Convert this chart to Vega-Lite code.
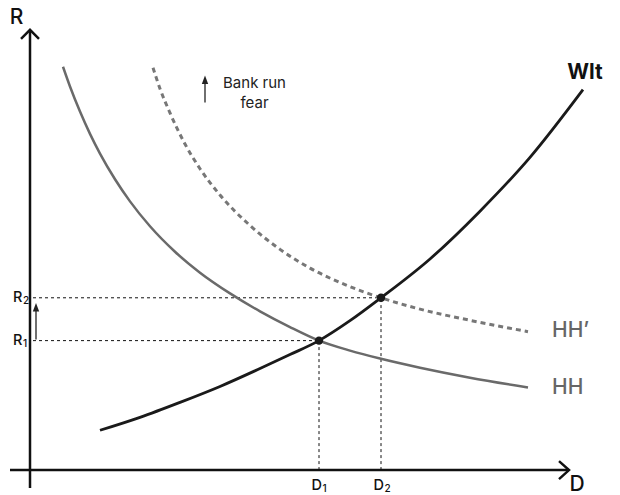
{
  "$schema": "https://vega.github.io/schema/vega-lite/v6.json",
  "width": 620,
  "height": 495,
  "autosize": {"type": "fit", "contains": "padding"},
  "padding": 0,
  "config": {"view": {"stroke": null}, "font": "Inter"},
  "datasets": {
    "axes": [
      {"part": "yaxis", "o": 0, "D": 0, "R": -4.5},
      {"part": "yaxis", "o": 1, "D": 0, "R": 110.5},
      {"part": "yarrow", "o": 0, "D": -1.8, "R": 108.25},
      {"part": "yarrow", "o": 1, "D": 0, "R": 110.5},
      {"part": "yarrow", "o": 2, "D": 1.8, "R": 108.25},
      {"part": "xaxis", "o": 0, "D": -4, "R": 0},
      {"part": "xaxis", "o": 1, "D": 107.8, "R": 0},
      {"part": "xarrow", "o": 0, "D": 105.8, "R": 2.25},
      {"part": "xarrow", "o": 1, "D": 107.8, "R": 0},
      {"part": "xarrow", "o": 2, "D": 105.8, "R": -2.25}
    ],
    "guides": [
      {"g": "h1", "o": 0, "D": 0.6, "R": 32.5},
      {"g": "h1", "o": 1, "D": 57.8, "R": 32.5},
      {"g": "h2", "o": 0, "D": 0.6, "R": 43.25},
      {"g": "h2", "o": 1, "D": 70.2, "R": 43.25},
      {"g": "v1", "o": 0, "D": 57.8, "R": 0},
      {"g": "v1", "o": 1, "D": 57.8, "R": 32.5},
      {"g": "v2", "o": 0, "D": 70.2, "R": 0},
      {"g": "v2", "o": 1, "D": 70.2, "R": 43.25}
    ],
    "curves": [
      {"curve": "Wlt", "D": 14.0, "R": 10.0},
      {"curve": "Wlt", "D": 22.0, "R": 13.25},
      {"curve": "Wlt", "D": 30.0, "R": 17.0},
      {"curve": "Wlt", "D": 38.0, "R": 21.0},
      {"curve": "Wlt", "D": 46.0, "R": 25.5},
      {"curve": "Wlt", "D": 52.0, "R": 29.0},
      {"curve": "Wlt", "D": 57.8, "R": 32.5},
      {"curve": "Wlt", "D": 64.0, "R": 37.5},
      {"curve": "Wlt", "D": 70.2, "R": 43.25},
      {"curve": "Wlt", "D": 80.0, "R": 53.0},
      {"curve": "Wlt", "D": 90.0, "R": 65.0},
      {"curve": "Wlt", "D": 100.0, "R": 78.5},
      {"curve": "Wlt", "D": 110.6, "R": 95.5},
      {"curve": "HH", "D": 6.6, "R": 101.25},
      {"curve": "HH", "D": 8.0, "R": 96.3},
      {"curve": "HH", "D": 10.0, "R": 90.0},
      {"curve": "HH", "D": 12.0, "R": 84.4},
      {"curve": "HH", "D": 14.0, "R": 79.45},
      {"curve": "HH", "D": 17.0, "R": 73.0},
      {"curve": "HH", "D": 20.0, "R": 67.45},
      {"curve": "HH", "D": 24.0, "R": 61.2},
      {"curve": "HH", "D": 29.0, "R": 54.8},
      {"curve": "HH", "D": 34.0, "R": 49.55},
      {"curve": "HH", "D": 40.0, "R": 44.35},
      {"curve": "HH", "D": 46.0, "R": 39.85},
      {"curve": "HH", "D": 52.0, "R": 35.9},
      {"curve": "HH", "D": 57.8, "R": 32.5},
      {"curve": "HH", "D": 64.0, "R": 30.0},
      {"curve": "HH", "D": 70.0, "R": 28.0},
      {"curve": "HH", "D": 78.0, "R": 25.7},
      {"curve": "HH", "D": 88.0, "R": 23.2},
      {"curve": "HH", "D": 99.6, "R": 20.75},
      {"curve": "HH'", "D": 24.6, "R": 101.0},
      {"curve": "HH'", "D": 26.0, "R": 95.75},
      {"curve": "HH'", "D": 28.0, "R": 89.65},
      {"curve": "HH'", "D": 31.0, "R": 81.85},
      {"curve": "HH'", "D": 34.0, "R": 75.65},
      {"curve": "HH'", "D": 38.0, "R": 69.05},
      {"curve": "HH'", "D": 44.0, "R": 61.4},
      {"curve": "HH'", "D": 50.0, "R": 55.4},
      {"curve": "HH'", "D": 56.0, "R": 50.7},
      {"curve": "HH'", "D": 63.0, "R": 46.55},
      {"curve": "HH'", "D": 70.2, "R": 43.25},
      {"curve": "HH'", "D": 78.0, "R": 40.4},
      {"curve": "HH'", "D": 88.0, "R": 37.6},
      {"curve": "HH'", "D": 99.6, "R": 34.75}
    ],
    "points": [
      {"name": "E1", "D": 57.8, "R": 32.5},
      {"name": "E2", "D": 70.2, "R": 43.25}
    ],
    "arrows": [
      {"a": "bank", "o": 0, "D": 35, "R": 92.25},
      {"a": "bank", "o": 1, "D": 35, "R": 97.5},
      {"a": "rise", "o": 0, "D": 1.2, "R": 32.75},
      {"a": "rise", "o": 1, "D": 1.2, "R": 40.5}
    ],
    "heads": [
      {"a": "bank", "D": 35, "R": 98.0},
      {"a": "rise", "D": 1.2, "R": 40.9}
    ],
    "ticks": [
      {"main": "R", "sub": "2", "D": -1.5, "R": 43.1},
      {"main": "R", "sub": "1", "D": -1.5, "R": 32.5},
      {"main": "D", "sub": "1", "D": 58.4, "R": -3.9},
      {"main": "D", "sub": "2", "D": 70.8, "R": -3.9}
    ],
    "labels": [
      {"kind": "axis", "text": "R", "D": -2.7, "R": 113.6},
      {"kind": "axis", "text": "D", "D": 109.4, "R": -3.75},
      {"kind": "wlt", "text": "Wlt", "D": 111.0, "R": 99.75},
      {"kind": "hh", "text": "HH’", "D": 104.4, "R": 35.0},
      {"kind": "hh", "text": "HH", "D": 104.4, "R": 20.5},
      {"kind": "note", "text": "Bank run", "D": 44.9, "R": 97.1},
      {"kind": "note", "text": "fear", "D": 44.9, "R": 92.25}
    ]
  },
  "encoding": {
    "x": {"field": "D", "type": "quantitative", "scale": {"domain": [-6, 118], "nice": false, "zero": false}, "axis": null},
    "y": {"field": "R", "type": "quantitative", "scale": {"domain": [-5.75, 118], "nice": false, "zero": false}, "axis": null}
  },
  "layer": [
    {
      "data": {"name": "guides"},
      "mark": {"type": "line", "color": "#111111", "strokeWidth": 1, "strokeDash": [3, 3]},
      "encoding": {"detail": {"field": "g"}, "order": {"field": "o"}}
    },
    {
      "data": {"name": "axes"},
      "mark": {"type": "line", "color": "#111111", "strokeWidth": 2.5, "strokeJoin": "miter", "strokeCap": "butt"},
      "encoding": {"detail": {"field": "part"}, "order": {"field": "o"}}
    },
    {
      "data": {"name": "curves"},
      "transform": [{"filter": "datum.curve === 'HH'"}],
      "mark": {"type": "line", "color": "#6a6a6a", "strokeWidth": 2.5, "interpolate": "monotone"},
      "encoding": {}
    },
    {
      "data": {"name": "curves"},
      "transform": [{"filter": "datum.curve === \"HH'\""}],
      "mark": {"type": "line", "color": "#777777", "strokeWidth": 3, "strokeDash": [5, 4], "interpolate": "monotone"},
      "encoding": {}
    },
    {
      "data": {"name": "curves"},
      "transform": [{"filter": "datum.curve === 'Wlt'"}],
      "mark": {"type": "line", "color": "#1a1a1a", "strokeWidth": 2.8, "interpolate": "monotone"},
      "encoding": {}
    },
    {
      "data": {"name": "points"},
      "mark": {"type": "point", "filled": true, "color": "#1a1a1a", "size": 70, "opacity": 1},
      "encoding": {}
    },
    {
      "data": {"name": "arrows"},
      "mark": {"type": "line", "color": "#222222", "strokeWidth": 1.3},
      "encoding": {"detail": {"field": "a"}, "order": {"field": "o"}}
    },
    {
      "data": {"name": "heads"},
      "mark": {"type": "point", "filled": true, "color": "#222222", "opacity": 1, "shape": "M0,-1L0.75,1L-0.75,1Z", "size": 72},
      "encoding": {}
    },
    {
      "data": {"name": "ticks"},
      "mark": {"type": "text", "fontSize": 14.5, "fontWeight": 500, "color": "#111111", "baseline": "middle", "align": "right"},
      "encoding": {"text": {"field": "main"}}
    },
    {
      "data": {"name": "ticks"},
      "mark": {"type": "text", "fontSize": 10, "fontWeight": 500, "color": "#111111", "baseline": "middle", "align": "left", "dx": 0.5, "dy": 3},
      "encoding": {"text": {"field": "sub"}}
    },
    {
      "data": {"name": "labels"},
      "transform": [{"filter": "datum.kind === 'axis'"}],
      "mark": {"type": "text", "fontSize": 21, "fontWeight": 500, "color": "#111111", "baseline": "middle", "align": "center"},
      "encoding": {"text": {"field": "text"}}
    },
    {
      "data": {"name": "labels"},
      "transform": [{"filter": "datum.kind === 'wlt'"}],
      "mark": {"type": "text", "fontSize": 21, "fontWeight": "bold", "color": "#111111", "baseline": "middle", "align": "center"},
      "encoding": {"text": {"field": "text"}}
    },
    {
      "data": {"name": "labels"},
      "transform": [{"filter": "datum.kind === 'hh'"}],
      "mark": {"type": "text", "fontSize": 21, "fontWeight": 500, "color": "#666666", "baseline": "middle", "align": "left"},
      "encoding": {"text": {"field": "text"}}
    },
    {
      "data": {"name": "labels"},
      "transform": [{"filter": "datum.kind === 'note'"}],
      "mark": {"type": "text", "fontSize": 15, "fontWeight": 400, "color": "#222222", "baseline": "middle", "align": "center"},
      "encoding": {"text": {"field": "text"}}
    }
  ]
}
